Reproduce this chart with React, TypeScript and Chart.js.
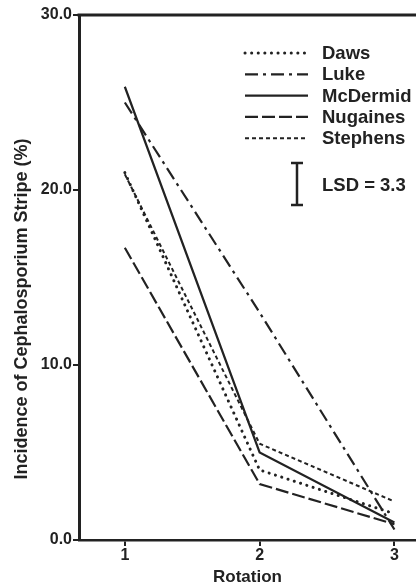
import { useEffect, useRef } from "react";
import { Chart, registerables } from "chart.js";

Chart.register(...registerables);

// ---- data ----
const rotations = [1, 2, 3];
const seriesNames = ["Daws", "Luke", "McDermid", "Nugaines", "Stephens"];
const daws = [21.0, 4.0, 1.5];
const luke = [25.0, 13.0, 0.6];
const mcdermid = [25.9, 5.0, 1.0];
const nugaines = [16.7, 3.2, 0.9];
const stephens = [20.9, 5.5, 2.2];
const xTicks = [1, 2, 3];
const yTicks = [0, 10, 20, 30];
const lsdLabel = "LSD = 3.3";
const xTitle = "Rotation";
const yTitle = "Incidence of Cephalosporium Stripe (%)";

const INK = "#222222";
const FONT = "'Liberation Sans', Arial, Helvetica, sans-serif";

const lineStyles = [
  { dash: [0.1, 6.5], width: 3, cap: "round" },
  { dash: [13, 5, 3, 5], width: 2.2, cap: "butt" },
  { dash: [], width: 2.2, cap: "butt" },
  { dash: [13, 4], width: 2.2, cap: "butt" },
  { dash: [4, 3], width: 2, cap: "butt" },
];

const overlay = {
  id: "overlay",
  afterDraw(chart: any) {
    const { ctx, chartArea } = chart;
    ctx.save();
    ctx.strokeStyle = INK;
    ctx.fillStyle = INK;
    // top frame line
    ctx.lineWidth = 3;
    ctx.setLineDash([]);
    ctx.beginPath();
    ctx.moveTo(chartArea.left - 1.5, chartArea.top);
    ctx.lineTo(chart.width, chartArea.top);
    ctx.stroke();

    // legend
    ctx.font = `bold 18.5px ${FONT}`;
    ctx.textBaseline = "middle";
    ctx.textAlign = "left";
    chart.data.datasets.forEach((ds: any, i: number) => {
      const y = 53 + i * 21.3;
      ctx.setLineDash(ds.borderDash || []);
      ctx.lineWidth = ds.borderWidth;
      ctx.lineCap = ds.borderCapStyle || "butt";
      ctx.beginPath();
      ctx.moveTo(245, y);
      ctx.lineTo(308, y);
      ctx.stroke();
      ctx.setLineDash([]);
      ctx.lineCap = "butt";
      ctx.fillText(ds.label, 322, y + 1);
    });

    // LSD bar
    ctx.lineWidth = 2.5;
    ctx.beginPath();
    ctx.moveTo(297, 163);
    ctx.lineTo(297, 205);
    ctx.moveTo(291, 163);
    ctx.lineTo(303, 163);
    ctx.moveTo(291, 205);
    ctx.lineTo(303, 205);
    ctx.stroke();
    ctx.fillText(lsdLabel, 322, 186);

    // y title
    ctx.font = `bold 18px ${FONT}`;
    ctx.translate(22, 309);
    ctx.rotate(-Math.PI / 2);
    ctx.textAlign = "center";
    ctx.fillText(yTitle, 0, 0);
    ctx.restore();
  },
};

export default function App() {
  const ref = useRef<HTMLCanvasElement | null>(null);

  useEffect(() => {
    document.body.style.margin = "0";
    document.body.style.background = "#ffffff";
    if (!ref.current) return;
    const series = [daws, luke, mcdermid, nugaines, stephens];
    const chart = new Chart(ref.current, {
      type: "line",
      data: {
        datasets: series.map((vals, i) => ({
          label: seriesNames[i],
          data: rotations.map((r, j) => ({ x: r, y: vals[j] })),
          borderColor: INK,
          borderWidth: lineStyles[i].width,
          borderDash: lineStyles[i].dash,
          borderCapStyle: lineStyles[i].cap as any,
          pointRadius: 0,
          fill: false,
          tension: 0,
        })),
      },
      options: {
        responsive: false,
        animation: false,
        layout: { padding: { top: 15, right: 0, bottom: 0, left: 0 } },
        plugins: { legend: { display: false }, tooltip: { enabled: false } },
        scales: {
          x: {
            type: "linear",
            min: 0.66,
            max: 3.16,
            afterBuildTicks: (scale: any) => {
              scale.ticks = xTicks.map((v) => ({ value: v }));
            },
            afterFit: (scale: any) => {
              scale.height = 48;
            },
            ticks: {
              color: INK,
              font: { family: FONT, size: 16, weight: "bold" },
              padding: 0,
              callback: (v: any) => String(v),
            },
            grid: {
              drawOnChartArea: false,
              drawTicks: true,
              tickLength: 6,
              color: INK,
              lineWidth: 2,
            },
            border: { display: true, color: INK, width: 2.5 },
            title: {
              display: true,
              text: xTitle,
              color: INK,
              font: { family: FONT, size: 17, weight: "bold" },
              padding: { top: 0, bottom: 0 },
            },
          },
          y: {
            type: "linear",
            min: 0,
            max: 30,
            afterBuildTicks: (scale: any) => {
              scale.ticks = yTicks.map((v) => ({ value: v }));
            },
            afterFit: (scale: any) => {
              scale.width = 79;
            },
            ticks: {
              color: INK,
              font: { family: FONT, size: 16, weight: "bold" },
              padding: 1,
              callback: (v: any) => Number(v).toFixed(1),
            },
            grid: {
              drawOnChartArea: false,
              drawTicks: true,
              tickLength: 6,
              color: INK,
              lineWidth: 2,
            },
            border: { display: true, color: INK, width: 3 },
          },
        },
      },
      plugins: [overlay],
    });
    return () => chart.destroy();
  }, []);

  return (
    <div style={{ width: 416, height: 588 }}>
      <canvas ref={ref} width={416} height={588} style={{ display: "block" }} />
    </div>
  );
}
